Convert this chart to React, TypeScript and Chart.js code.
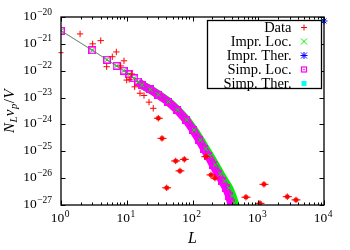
import React, { useEffect, useRef } from "react";
import { Chart, registerables } from "chart.js";

Chart.register(...registerables);

// ---- data ----
const dataL = [1.95, 3.03, 4.02, 6.94, 6.03, 4.95, 9.08, 8.09, 11.9, 9.98, 10.9, 13.2, 15.9, 18.3, 21.8, 25.3, 30.2, 34.4, 40.5, 55.5, 75.1, 64.5, 160, 191, 220, 651, 1063, 1222, 2767, 3752];
const dataV = [2.34e-21, 1.0e-21, 1.32e-21, 5.0e-22, 3.31e-22, 1.41e-22, 2.34e-22, 1.51e-22, 7.59e-23, 4.47e-23, 4.79e-23, 2.51e-23, 1.45e-23, 1.2e-23, 6.76e-24, 3.98e-24, 1.7e-24, 3.02e-25, 4.37e-27, 4.37e-26, 5.01e-26, 1.86e-26, 6.31e-26, 1.32e-26, 1.0e-26, 1.95e-27, 1.15e-27, 5.89e-27, 2.04e-27, 1.55e-27];
const dataEdgeL = [1];
const dataEdgeV = [4.68e-22];

const simpLocL = [1, 3, 5, 7, 9, 11, 13, 15, 17, 22.6, 29.9, 42.4, 58.1, 79.6, 101.8, 125.7, 149.6, 172.2, 205.1, 244.3, 281, 323.3, 359, 385, 399];
const simpLocV = [3.09e-21, 5.75e-22, 2.57e-22, 1.51e-22, 1.0e-22, 7.41e-23, 5.25e-23, 3.89e-23, 2.95e-23, 2.0e-23, 1.29e-23, 7.08e-24, 3.47e-24, 1.48e-24, 6.17e-25, 2.63e-25, 1.23e-25, 6.76e-26, 3.09e-26, 1.41e-26, 7.76e-27, 4.27e-27, 2.19e-27, 1.2e-27, 8.5e-28];
const imprLocL = [1, 3, 5, 7, 9, 11, 13, 15, 17, 22.8, 30.2, 43, 59.2, 81.6, 105.9, 132, 158.6, 184.3, 221.5, 266.3, 309.1, 358.9, 402.1, 435.1, 454.9];
const imprLocV = [3.09e-21, 5.75e-22, 2.57e-22, 1.51e-22, 1.0e-22, 7.41e-23, 5.25e-23, 3.89e-23, 2.95e-23, 2.0e-23, 1.29e-23, 7.08e-24, 3.47e-24, 1.48e-24, 6.17e-25, 2.63e-25, 1.23e-25, 6.76e-26, 3.09e-26, 1.41e-26, 7.76e-27, 4.27e-27, 2.19e-27, 1.2e-27, 8.5e-28];
const imprTherL = [10000];
const imprTherV = [7.1e-21];
const simpTherL = [9500];
const simpTherV = [7.1e-21];

const xTickExps = [0, 1, 2, 3, 4];
const yTickExps = [-20, -21, -22, -23, -24, -25, -26, -27];
const minorMults = [2, 3, 4, 5, 6, 7, 8, 9];
const legendLabels = ["Data", "Impr. Loc.", "Impr. Ther.", "Simp. Loc.", "Simp. Ther."];

const RED = "#ff0000";
const GREEN = "#00ee00";
const BLUE = "#0000ff";
const MAGENTA = "#ff00ff";
const CYAN = "#00ffff";
const FONT = '"Liberation Serif", "Times New Roman", serif';

const pts = (xs: number[], ys: number[]) => xs.map((x, i) => ({ x, y: ys[i] }));

function drawMarker(ctx: CanvasRenderingContext2D, kind: string, x: number, y: number) {
  ctx.save();
  ctx.lineWidth = 1;
  if (kind === "Data") {
    ctx.strokeStyle = RED;
    ctx.beginPath();
    ctx.moveTo(x - 3, y); ctx.lineTo(x + 3, y);
    ctx.moveTo(x, y - 3); ctx.lineTo(x, y + 3);
    ctx.stroke();
  } else if (kind === "Impr. Loc.") {
    ctx.strokeStyle = GREEN;
    ctx.beginPath();
    ctx.moveTo(x - 3, y - 3); ctx.lineTo(x + 3, y + 3);
    ctx.moveTo(x - 3, y + 3); ctx.lineTo(x + 3, y - 3);
    ctx.stroke();
  } else if (kind === "Impr. Ther.") {
    ctx.strokeStyle = BLUE;
    ctx.beginPath();
    ctx.moveTo(x - 3, y - 3); ctx.lineTo(x + 3, y + 3);
    ctx.moveTo(x - 3, y + 3); ctx.lineTo(x + 3, y - 3);
    ctx.moveTo(x - 3.5, y); ctx.lineTo(x + 3.5, y);
    ctx.moveTo(x, y - 3.5); ctx.lineTo(x, y + 3.5);
    ctx.stroke();
  } else if (kind === "Simp. Loc.") {
    ctx.strokeStyle = MAGENTA;
    ctx.fillStyle = MAGENTA;
    ctx.lineWidth = 1.2;
    ctx.strokeRect(x - 2.5, y - 2.5, 5, 5);
    ctx.fillRect(x - 0.7, y - 0.7, 1.4, 1.4);
  } else {
    ctx.fillStyle = CYAN;
    ctx.fillRect(x - 2.5, y - 2.5, 5, 5);
  }
  ctx.restore();
}

const framePlugin = {
  id: "frameAndText",
  afterDraw(chart: any) {
    const { ctx, chartArea: a } = chart;
    const xs = chart.scales.x;
    const ys = chart.scales.y;
    ctx.save();
    // frame
    ctx.strokeStyle = "#000";
    ctx.lineWidth = 1.3;
    ctx.strokeRect(a.left, a.top, a.right - a.left, a.bottom - a.top);
    // ticks
    ctx.lineWidth = 1;
    ctx.beginPath();
    xTickExps.forEach((e) => {
      const px = Math.round(xs.getPixelForValue(Math.pow(10, e))) + 0.5;
      ctx.moveTo(px, a.bottom); ctx.lineTo(px, a.bottom - 4.5);
      ctx.moveTo(px, a.top); ctx.lineTo(px, a.top + 4.5);
      if (e < xTickExps[xTickExps.length - 1]) {
        minorMults.forEach((m) => {
          const mx = Math.round(xs.getPixelForValue(m * Math.pow(10, e))) + 0.5;
          ctx.moveTo(mx, a.bottom); ctx.lineTo(mx, a.bottom - 2.5);
          ctx.moveTo(mx, a.top); ctx.lineTo(mx, a.top + 2.5);
        });
      }
    });
    yTickExps.forEach((e) => {
      const py = Math.round(ys.getPixelForValue(Math.pow(10, e))) + 0.5;
      ctx.moveTo(a.left, py); ctx.lineTo(a.left + 4.5, py);
      ctx.moveTo(a.right, py); ctx.lineTo(a.right - 4.5, py);
    });
    ctx.stroke();

    // tick labels
    ctx.fillStyle = "#000";
    ctx.textBaseline = "alphabetic";
    ctx.textAlign = "left";
    const bigFont = `13.5px ${FONT}`;
    const supFont = `9.5px ${FONT}`;
    const powW = (exp: string) => {
      ctx.font = bigFont;
      const w1 = ctx.measureText("10").width;
      ctx.font = supFont;
      const w2 = ctx.measureText(exp).width;
      return [w1, w2];
    };
    const drawPow = (x0: number, base: number, exp: string, w1: number) => {
      ctx.font = bigFont;
      ctx.fillText("10", x0, base);
      ctx.font = supFont;
      ctx.fillText(exp, x0 + w1 + 0.5, base - 5.5);
    };
    yTickExps.forEach((e) => {
      const py = ys.getPixelForValue(Math.pow(10, e));
      const exp = "\u2212" + String(Math.abs(e));
      const [w1, w2] = powW(exp);
      drawPow(52 - w1 - w2 - 0.5, py + 3, exp, w1);
    });
    xTickExps.forEach((e) => {
      const px = xs.getPixelForValue(Math.pow(10, e));
      const exp = String(e);
      const [w1, w2] = powW(exp);
      drawPow(px - 1 - (w1 + w2 + 0.5) / 2, a.bottom + 17, exp, w1);
    });

    // x title
    ctx.font = `italic 16px ${FONT}`;
    ctx.textAlign = "center";
    ctx.fillText("L", (a.left + a.right) / 2, 243);

    // y title: N_L v_p / V (rotated)
    ctx.save();
    ctx.translate(14, (a.top + a.bottom) / 2);
    ctx.rotate(-Math.PI / 2);
    ctx.textAlign = "left";
    const parts: [string, string, number][] = [
      ["N", `italic 15px ${FONT}`, 0],
      ["L", `italic 10.5px ${FONT}`, 3],
      ["v", `italic 15px ${FONT}`, 0],
      ["p", `italic 10.5px ${FONT}`, 3],
      ["/", `15px ${FONT}`, 0],
      ["V", `italic 15px ${FONT}`, 0],
    ];
    let total = 0;
    parts.forEach(([t, f]) => { ctx.font = f; total += ctx.measureText(t).width + 0.5; });
    let cx = -total / 2;
    parts.forEach(([t, f, dy]) => {
      ctx.font = f;
      ctx.fillText(t, cx, dy);
      cx += ctx.measureText(t).width + 0.5;
    });
    ctx.restore();

    // legend
    const lx0 = 207.5, ly0 = 20.5, lx1 = 321.5, ly1 = 88.5;
    ctx.fillStyle = "#fff";
    ctx.fillRect(lx0, ly0, lx1 - lx0, ly1 - ly0);
    ctx.strokeStyle = "#000";
    ctx.lineWidth = 1.3;
    ctx.strokeRect(lx0, ly0, lx1 - lx0, ly1 - ly0);
    ctx.font = `14.5px ${FONT}`;
    ctx.fillStyle = "#000";
    ctx.textAlign = "right";
    legendLabels.forEach((lab, i) => {
      const cy = 27.5 + i * 14;
      ctx.fillText(lab, 291.5, cy + 4.5);
      drawMarker(ctx, lab, 304, cy);
    });
    ctx.restore();
  },
};

export default function App() {
  const ref = useRef<HTMLCanvasElement | null>(null);

  useEffect(() => {
    if (!ref.current) return;
    // Simp. Loc. marker: square with centre dot
    const sq = document.createElement("canvas");
    sq.width = 8;
    sq.height = 8;
    const sctx = sq.getContext("2d")!;
    sctx.strokeStyle = MAGENTA;
    sctx.fillStyle = MAGENTA;
    sctx.lineWidth = 1.5;
    sctx.strokeRect(0.75, 0.75, 6.5, 6.5);
    sctx.fillRect(3, 3, 2, 2);

    const lowData = pts(dataL, dataV).filter((p) => p.y < 2e-24);

    const chart = new Chart(ref.current, {
      type: "scatter",
      data: {
        datasets: [
          {
            label: "Data",
            data: pts(dataL, dataV),
            pointStyle: "cross",
            pointRadius: 3.2,
            pointBorderColor: RED,
            pointBorderWidth: 1,
            borderColor: RED,
            showLine: false,
            order: 0,
          },
          {
            label: "dataBars",
            data: lowData,
            pointStyle: "line",
            pointRadius: 4.5,
            pointBorderColor: RED,
            pointBorderWidth: 1,
            showLine: false,
            order: 1,
          },
          {
            label: "dataBoxes",
            data: lowData,
            pointStyle: "rect",
            pointRadius: 2.5,
            pointBackgroundColor: RED,
            pointBorderColor: RED,
            pointBorderWidth: 0.5,
            showLine: false,
            order: 1,
          },
          {
            label: "dataEdge",
            data: pts(dataEdgeL, dataEdgeV),
            pointStyle: "line",
            pointRadius: 2.5,
            pointBorderColor: RED,
            pointBorderWidth: 1,
            showLine: false,
            clip: false,
            order: 1,
          },
          {
            label: "Impr. Loc.",
            data: pts(imprLocL, imprLocV),
            pointStyle: "crossRot",
            pointRadius: 3,
            pointBorderColor: GREEN,
            pointBorderWidth: 1,
            showLine: true,
            borderColor: "rgba(0,180,0,0.55)",
            borderWidth: 1,
            order: 2,
          },
          {
            label: "Impr. Ther.",
            data: pts(imprTherL, imprTherV),
            pointStyle: "star",
            pointRadius: 3.5,
            pointBorderColor: BLUE,
            pointBorderWidth: 1,
            showLine: false,
            clip: false,
            order: 2,
          },
          {
            label: "Simp. Loc.",
            data: pts(simpLocL, simpLocV),
            pointStyle: sq as any,
            pointRadius: 4,
            showLine: true,
            borderColor: "rgba(190,0,190,0.55)",
            borderWidth: 1,
            order: 3,
          },
          {
            label: "Simp. Ther.",
            data: pts(simpTherL, simpTherV),
            pointStyle: "rect",
            pointRadius: 2.8,
            pointBackgroundColor: CYAN,
            pointBorderColor: CYAN,
            pointBorderWidth: 0,
            showLine: false,
            clip: false,
            order: 3,
          },
          {
            label: "simpBand",
            data: pts(simpLocL.slice(7), simpLocV.slice(7)),
            pointRadius: 0,
            showLine: true,
            borderColor: MAGENTA,
            borderWidth: 8,
            order: 4,
          },
          {
            label: "imprBand",
            data: pts(imprLocL.slice(7), imprLocV.slice(7)),
            pointRadius: 0,
            showLine: true,
            borderColor: GREEN,
            borderWidth: 8.5,
            order: 5,
          },
        ],
      },
      options: {
        animation: false,
        responsive: false,
        devicePixelRatio: 1,
        layout: { padding: { left: 61, top: 17, right: 26, bottom: 45 } },
        plugins: { legend: { display: false }, tooltip: { enabled: false } },
        elements: { line: { tension: 0 } },
        scales: {
          x: { type: "logarithmic", min: 1, max: 10000, display: false },
          y: { type: "logarithmic", min: 1e-27, max: 1e-20, display: false },
        },
      },
      plugins: [framePlugin],
    });
    return () => chart.destroy();
  }, []);

  return (
    <div style={{ position: "fixed", left: 0, top: 0, width: 350, height: 250, background: "#fff" }}>
      <canvas ref={ref} width={350} height={250} style={{ width: 350, height: 250 }} />
    </div>
  );
}
